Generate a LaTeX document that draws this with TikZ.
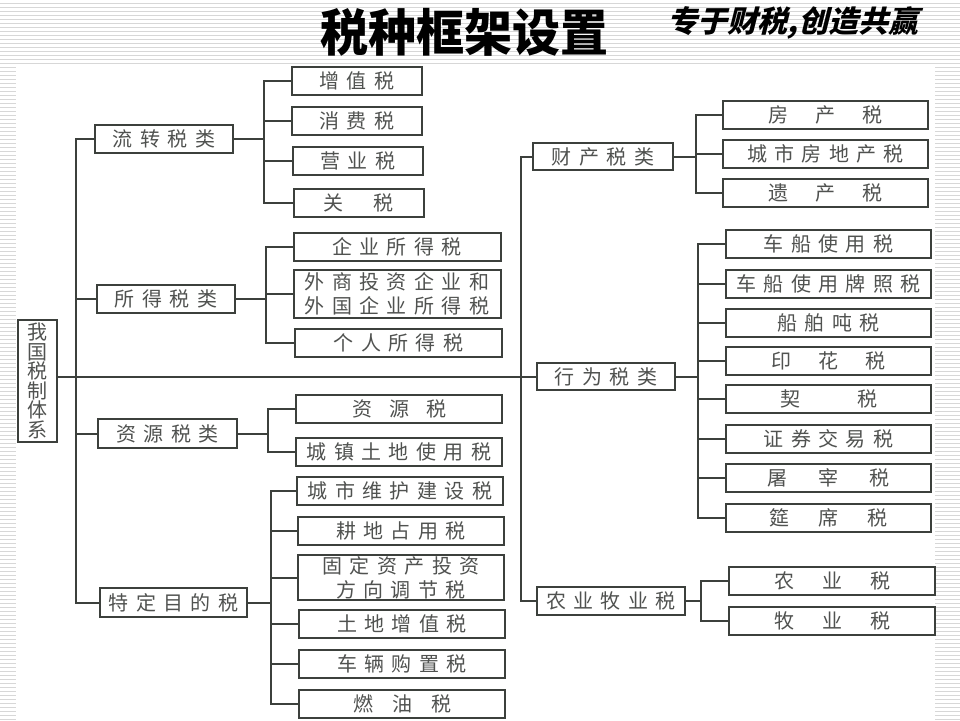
\documentclass[tikz,border=0pt]{standalone}
\usepackage{fontspec}
\newfontfamily\cjk{Noto Sans CJK SC}[LetterSpace=37]
\newfontfamily\cjkt{Noto Sans CJK SC}
\newfontfamily\cjks{Noto Sans CJK SC}[FakeSlant=0.25]
\definecolor{boxc}{RGB}{60,64,60}
\definecolor{txtc}{RGB}{80,82,80}
\definecolor{stripec}{RGB}{215,215,215}
\begin{document}
\begin{tikzpicture}[x=1pt,y=-1pt,
  bx/.style={draw=boxc, line width=2pt, fill=white, inner sep=0pt, text=txtc,
    font=\cjk\fontsize{20}{24}\selectfont, align=center, minimum height=28pt},
  cn/.style={draw=boxc, line width=2pt, line join=miter},
  stripe/.style={draw=stripec, line width=1pt}]
\useasboundingbox (0,0) rectangle (960,720);
% background stripes
\foreach \k in {0,...,15} \draw[stripe] (0,{3.3+4*\k}) -- (960,{3.3+4*\k});
\foreach \k in {16,...,179} {
  \draw[stripe] (0,{3.3+4*\k}) -- (16,{3.3+4*\k});
  \draw[stripe] (935,{3.3+4*\k}) -- (960,{3.3+4*\k});
}
% titles
\node[font=\cjkt\bfseries\fontsize{48}{48}\selectfont, text=black, inner sep=0pt, yscale=1.05] (title) at (464,32) {税种框架设置};
\node[font=\cjks\bfseries\fontsize{30}{30}\selectfont, text=black, inner sep=0pt] (slogan) at (793,23) {专于财税,创造共赢};
% root
\node[bx, minimum width=39pt, minimum height=122pt, font=\cjkt\fontsize{20}{19.5}\selectfont] (root) at (37.5,381) {我\\国\\税\\制\\体\\系};
% left level 1
\node[bx, minimum width=138pt] (L1) at (164,139) {流转税类};
\node[bx, minimum width=138pt] (L2) at (166,299) {所得税类};
\node[bx, minimum width=139pt, minimum height=29pt] (L3) at (167.5,433.5) {资源税类};
\node[bx, minimum width=147pt, minimum height=29pt] (L4) at (173.5,602.5) {特定目的税};
% left level 2
\node[bx, minimum width=130pt] (a1) at (357,81) {增值税};
\node[bx, minimum width=130pt] (a2) at (357,121) {消费税};
\node[bx, minimum width=130pt] (a3) at (358,160.5) {营业税};
\node[bx, minimum width=130pt] (a4) at (358.5,203) {关\hspace{30pt}税};
\node[bx, minimum width=207pt] (b1) at (397,247) {企业所得税};
\node[bx, minimum width=207pt, minimum height=48pt] (b2) at (397,294) {外商投资企业和\\外国企业所得税};
\node[bx, minimum width=207pt] (b3) at (398.5,342.5) {个人所得税};
\node[bx, minimum width=206pt] (c1) at (399,409) {资\hspace{17pt}源\hspace{17pt}税};
\node[bx, minimum width=206pt] (c2) at (399,452) {城镇土地使用税};
\node[bx, minimum width=206pt] (d1) at (400,491) {城市维护建设税};
\node[bx, minimum width=206pt] (d2) at (401,531) {耕地占用税};
\node[bx, minimum width=206pt, minimum height=45pt] (d3) at (401,577.5) {固定资产投资\\方向调节税};
\node[bx, minimum width=206pt] (d4) at (402,624) {土地增值税};
\node[bx, minimum width=206pt] (d5) at (402,664) {车辆购置税};
\node[bx, minimum width=206pt] (d6) at (402,704) {燃\hspace{19pt}油\hspace{19pt}税};
% right level 1
\node[bx, minimum width=140pt, minimum height=27pt] (R1) at (603,156.5) {财产税类};
\node[bx, minimum width=138pt, minimum height=27pt] (xw) at (606,376.5) {行为税类};
\node[bx, minimum width=148pt] (R3) at (611,601) {农业牧业税};
% right level 2
\node[bx, minimum width=205pt] (e1) at (825.5,115) {房\hspace{27pt}产\hspace{27pt}税};
\node[bx, minimum width=205pt] (e2) at (825.5,154) {城市房地产税};
\node[bx, minimum width=205pt] (e3) at (825.5,192.5) {遗\hspace{27pt}产\hspace{27pt}税};
\node[bx, minimum width=205pt] (f1) at (828.5,244) {车船使用税};
\node[bx, minimum width=205pt] (f2) at (828.5,284) {车船使用牌照税};
\node[bx, minimum width=205pt] (f3) at (828.5,322.5) {船舶吨税};
\node[bx, minimum width=205pt] (f4) at (828.5,361) {印\hspace{27pt}花\hspace{27pt}税};
\node[bx, minimum width=205pt] (f5) at (828.5,399) {契\hspace{57pt}税};
\node[bx, minimum width=205pt] (f6) at (828.5,439) {证券交易税};
\node[bx, minimum width=205pt] (f7) at (828.5,477.5) {屠\hspace{31pt}宰\hspace{31pt}税};
\node[bx, minimum width=205pt] (f8) at (828.5,517.5) {筵\hspace{29pt}席\hspace{29pt}税};
\node[bx, minimum width=206pt] (g1) at (832,581) {农\hspace{28pt}业\hspace{28pt}税};
\node[bx, minimum width=206pt] (g2) at (832,621) {牧\hspace{28pt}业\hspace{28pt}税};
% connectors
\coordinate (sL) at ([xshift=18pt]root.east |- xw.west);
\coordinate (sR) at ([xshift=-15pt]xw.west);
\draw[cn] (root.east |- xw.west) -- (xw.west);
\foreach \n in {L1,L2,L3,L4} \draw[cn] (sL) |- (\n.west);
\foreach \n in {R1,R3} \draw[cn] (sR) |- (\n.west);
\foreach \c in {a1,a2,a3,a4} \draw[cn] (L1.east) -- ++(30,0) |- (\c.west);
\foreach \c in {b1,b2,b3} \draw[cn] (L2.east) -- ++(30,0) |- (\c.west);
\foreach \c in {c1,c2} \draw[cn] (L3.east) -- ++(30,0) |- (\c.west);
\foreach \c in {d1,d2,d3,d4,d5,d6} \draw[cn] (L4.east) -- ++(23,0) |- (\c.west);
\foreach \c in {e1,e2,e3} \draw[cn] (R1.east) -- ++(22,0) |- (\c.west);
\foreach \c in {f1,f2,f3,f4,f5,f6,f7,f8} \draw[cn] (xw.east) -- ++(22,0) |- (\c.west);
\foreach \c in {g1,g2} \draw[cn] (R3.east) -- ++(15,0) |- (\c.west);
\end{tikzpicture}
\end{document}
